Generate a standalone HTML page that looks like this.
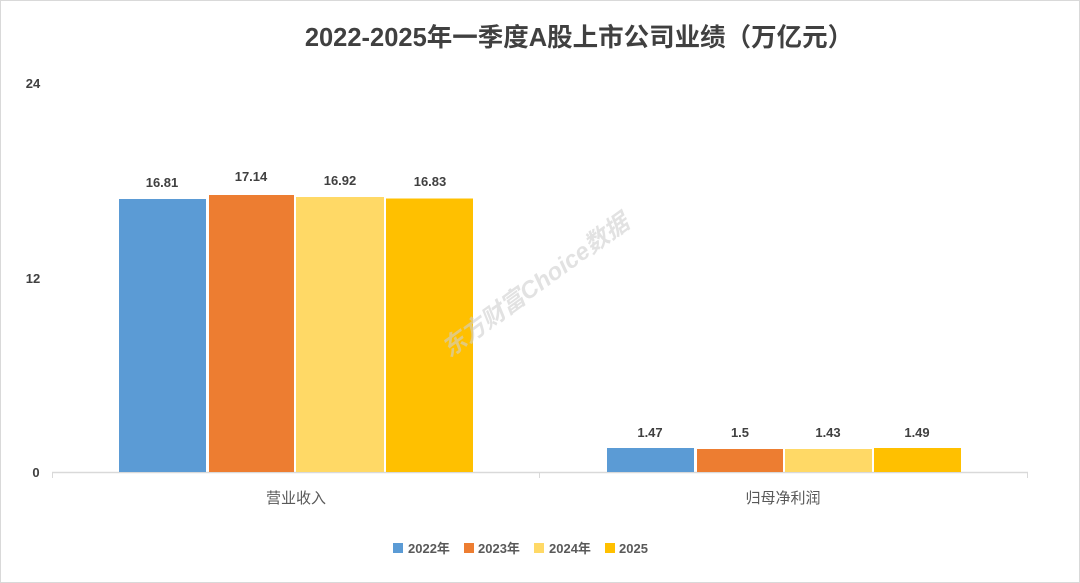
<!DOCTYPE html>
<html><head><meta charset="utf-8"><style>
body{margin:0;width:1080px;height:583px;background:#fff;overflow:hidden}
svg{display:block;font-family:"Liberation Sans","Noto Sans CJK SC",sans-serif}
</style></head><body>
<svg width="1080" height="583" viewBox="0 0 1080 583">
<rect x="0.5" y="0.5" width="1079" height="582" fill="#fff" stroke="#d9d9d9"/>
<text x="579" y="46" text-anchor="middle" font-size="25.5" font-weight="bold" fill="#404040">2022-2025年一季度A股上市公司业绩（万亿元）</text>
<g font-size="13" font-weight="bold" fill="#404040" text-anchor="middle">
<text x="33" y="88">24</text><text x="33" y="283">12</text><text x="36" y="477">0</text>
</g>
<line x1="52" y1="472.5" x2="1028" y2="472.5" stroke="#d9d9d9" stroke-width="1.5"/>
<line x1="52.5" y1="472" x2="52.5" y2="478" stroke="#d9d9d9"/>
<line x1="539.5" y1="472" x2="539.5" y2="478" stroke="#d9d9d9"/>
<line x1="1027.5" y1="472" x2="1027.5" y2="478" stroke="#d9d9d9"/>
<g>
<rect x="119" y="199" width="87" height="273" fill="#5b9bd5"/>
<rect x="209" y="195" width="85" height="277" fill="#ed7d31"/>
<rect x="296" y="197" width="88" height="275" fill="#ffd966"/>
<rect x="386" y="198.5" width="87" height="273.5" fill="#ffc000"/>
<rect x="607" y="448" width="87" height="24" fill="#5b9bd5"/>
<rect x="697" y="449" width="86" height="23" fill="#ed7d31"/>
<rect x="785" y="449" width="87" height="23" fill="#ffd966"/>
<rect x="874" y="448" width="87" height="24" fill="#ffc000"/>
</g>
<g font-size="13" font-weight="bold" fill="#404040" text-anchor="middle">
<text x="162" y="187">16.81</text><text x="251" y="181">17.14</text><text x="340" y="185">16.92</text><text x="430" y="186">16.83</text>
<text x="650" y="437">1.47</text><text x="740" y="437">1.5</text><text x="828" y="437">1.43</text><text x="917" y="437">1.49</text>
</g>
<g font-size="15" fill="#595959" text-anchor="middle">
<text x="296" y="503">营业收入</text><text x="783" y="503">归母净利润</text>
</g>
<g font-size="13" font-weight="bold" fill="#595959">
<rect x="393" y="543" width="10" height="10" fill="#5b9bd5"/><text x="408" y="553">2022年</text>
<rect x="464" y="543" width="10" height="10" fill="#ed7d31"/><text x="478" y="553">2023年</text>
<rect x="534" y="543" width="10" height="10" fill="#ffd966"/><text x="549" y="553">2024年</text>
<rect x="605" y="543" width="10" height="10" fill="#ffc000"/><text x="619" y="553">2025</text>
</g>
<text x="540" y="292" transform="rotate(-36 540 292)" text-anchor="middle" font-size="24" font-weight="bold" font-style="italic" fill="#d0d0d0" opacity="0.6">东方财富Choice数据</text>
</svg>
</body></html>
